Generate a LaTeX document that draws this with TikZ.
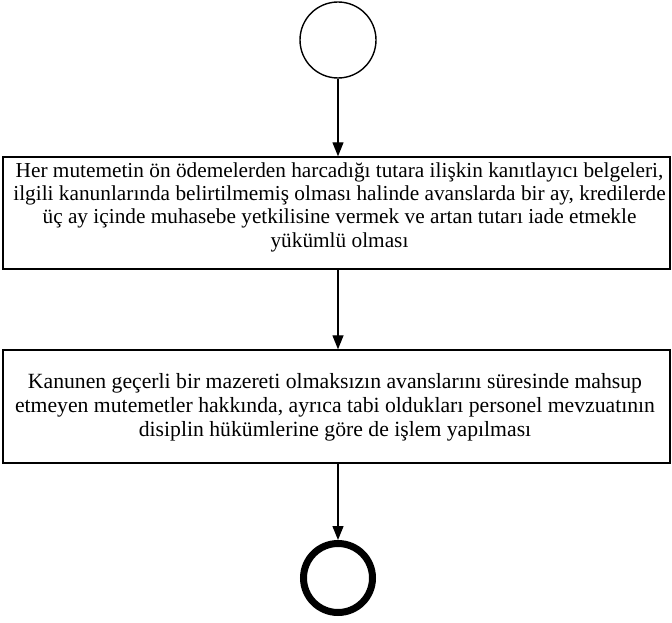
\documentclass[tikz,border=0pt]{standalone}
\usepackage{fontspec}
\setmainfont{Liberation Serif}
\usetikzlibrary{arrows.meta}
\begin{document}
\begin{tikzpicture}[x=1pt,y=-1pt,
  flow/.style={line width=1.3pt,-{Triangle[length=14pt,width=11pt]}},
  actbox/.style={draw,line width=1.4pt,minimum width=667pt,inner sep=0pt},
  boxtext/.style={align=center,inner sep=0pt},
  startcircle/.style={draw,circle,line width=1.4pt,minimum size=76pt,inner sep=0pt},
  endcircle/.style={draw,circle,line width=7pt,minimum size=69pt,inner sep=0pt}]
\useasboundingbox (0,0) rectangle (672,623);
\node[startcircle] (start) at (338,40) {};
\node[actbox,minimum height=112pt] (a1) at (336.5,213) {};
\node[boxtext,font=\fontsize{21.3}{23.3}\selectfont] (t1) at (339.5,207)
  {Her mutemetin ön ödemelerden harcadığı tutara ilişkin kanıtlayıcı belgeleri,\\
   ilgili kanunlarında belirtilmemiş olması halinde avanslarda bir ay, kredilerde\\
   üç ay içinde muhasebe yetkilisine vermek ve artan tutarı iade etmekle\\
   yükümlü olması};
\node[actbox,minimum height=113pt] (a2) at (336.5,406.5) {};
\node[boxtext,font=\fontsize{21.7}{24}\selectfont] (t2) at (335,407)
  {Kanunen geçerli bir mazereti olmaksızın avanslarını süresinde mahsup\\
   etmeyen mutemetler hakkında, ayrıca tabi oldukları personel mevzuatının\\
   disiplin hükümlerine göre de işlem yapılması};
\node[endcircle] (stop) at (338,578) {};
\draw[flow] (start.south) -- (start.south |- a1.north);
\draw[flow] (a1.south -| start.south) -- (a2.north -| start.south);
\draw[flow] (a2.south -| start.south) -- (stop.north);
\end{tikzpicture}
\end{document}
